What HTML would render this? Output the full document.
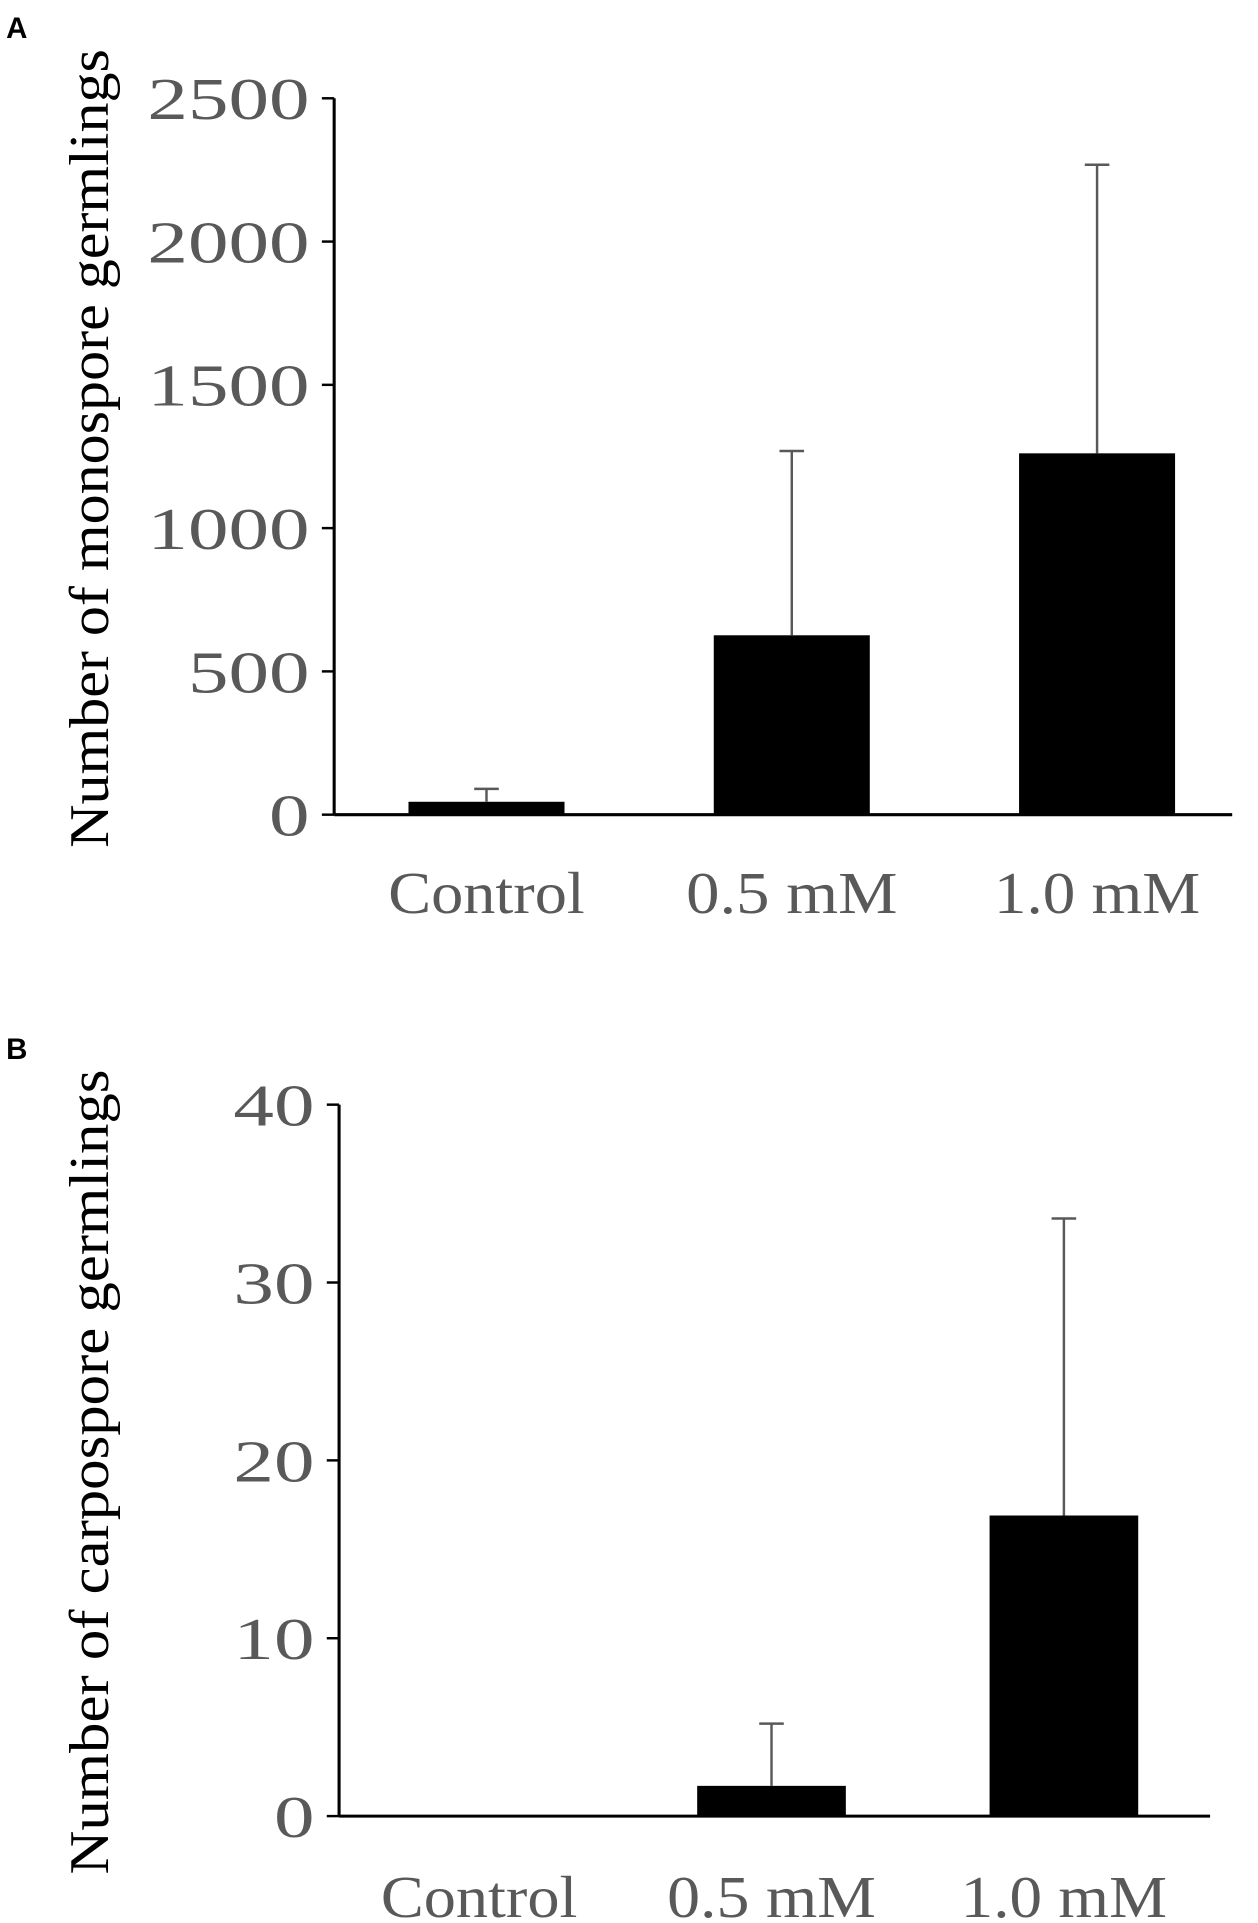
<!DOCTYPE html>
<html><head><meta charset="utf-8"><style>html,body{margin:0;padding:0;background:#fff}svg{display:block}</style></head>
<body>
<svg id="fig" width="1258" height="1923" viewBox="0 0 1024 1565" preserveAspectRatio="none" xmlns="http://www.w3.org/2000/svg">
<text x="5" y="31" font-family="Liberation Sans, sans-serif" font-weight="bold" font-size="24">A</text>
<text x="5" y="862" font-family="Liberation Sans, sans-serif" font-weight="bold" font-size="24">B</text>
<g id="chartA"></g>
<g id="chartB"></g>
</svg>
<script>
const categories = ["Control", "0.5 mM", "1.0 mM"];
const valuesA = [45, 626, 1261];
const errorsA = [45, 643, 1007];
const ticksA = [0, 500, 1000, 1500, 2000, 2500];
const valuesB = [0, 1.7, 16.9];
const errorsB = [0, 3.5, 16.7];
const ticksB = [0, 10, 20, 30, 40];
const NS = "http://www.w3.org/2000/svg";
function mk(parent, tag, attrs) {
  const e = document.createElementNS(NS, tag);
  for (const k in attrs) e.setAttribute(k, attrs[k]);
  parent.appendChild(e);
  return e;
}
function draw(g, cfg, values, errors, ticks, suffix) {
  const y = v => cfg.y0 - (v - ticks[0]) / (ticks[ticks.length - 1] - ticks[0]) * (cfg.y0 - cfg.yTop);
  const x = i => cfg.c0 + i * cfg.step;
  const font = '"Liberation Serif", serif';
  ticks.forEach((t, i) => {
    const s = String(t);
    const el = mk(g, "text", {x: cfg.x0 - 20, y: y(t) + 17, "text-anchor": "end", "font-family": font, "font-size": 48, fill: "#595959", textLength: s.length * cfg.digitW, lengthAdjust: "spacingAndGlyphs"});
    el.textContent = s;
    
    
  });
  values.forEach((v, i) => {
    const cx = x(i);
    const r = mk(g, "rect", {x: cx - cfg.bw / 2, y: y(v), width: cfg.bw, height: cfg.y0 - y(v), fill: "#000"});
    
    
    if (errors[i] > 0) {
      const ln = mk(g, "line", {x1: cx, x2: cx, y1: y(v), y2: y(v + errors[i]), stroke: "#595959", "stroke-width": 2});
      
      
      const cap = mk(g, "line", {x1: cx - 10, x2: cx + 10, y1: y(v + errors[i]), y2: y(v + errors[i]), stroke: "#595959", "stroke-width": 2});
      
      
    }
    const lb = mk(g, "text", {x: cx, y: cfg.labelY, "text-anchor": "middle", "font-family": font, "font-size": 48, fill: "#595959", textLength: cfg.labelW[i], lengthAdjust: "spacingAndGlyphs"});
    lb.textContent = categories[i];
    
    
  });
  const ax = mk(g, "line", {x1: cfg.x0, x2: cfg.x0, y1: cfg.yTop, y2: cfg.y0, stroke: "#000", "stroke-width": 2.5});
  
  
  const bx = mk(g, "line", {x1: cfg.x0, x2: cfg.x1, y1: cfg.y0, y2: cfg.y0, stroke: "#000", "stroke-width": 2.5});
  
  
  ticks.forEach(t => {
    const tk = mk(g, "line", {x1: cfg.x0 - 10, x2: cfg.x0, y1: y(t), y2: y(t), stroke: "#000", "stroke-width": 2});
    
    
  });
  const tt = mk(g, "text", {x: 0, y: 0, "text-anchor": "middle", "font-family": font, "font-size": 46, fill: "#000", transform: `translate(${cfg.titleX},${cfg.titleY}) rotate(-90)`, textLength: cfg.titleW, lengthAdjust: "spacingAndGlyphs"});
  tt.textContent = cfg.title;
  
  
}
draw(document.getElementById("chartA"), {x0: 272, x1: 1003, y0: 663, yTop: 80, c0: 396, step: 248.5, bw: 127, labelY: 743, labelW: [160, 172, 168], digitW: 33, titleX: 88, titleY: 365, titleW: 650, title: "Number of monospore germlings"}, valuesA, errorsA, ticksA, "a");
draw(document.getElementById("chartB"), {x0: 276, x1: 985, y0: 1478, yTop: 899, c0: 390, step: 238, bw: 121, labelY: 1560, labelW: [160, 170, 168], digitW: 33, titleX: 88, titleY: 1198, titleW: 655, title: "Number of carpospore germlings"}, valuesB, errorsB, ticksB, "b");
</script>
</body></html>
